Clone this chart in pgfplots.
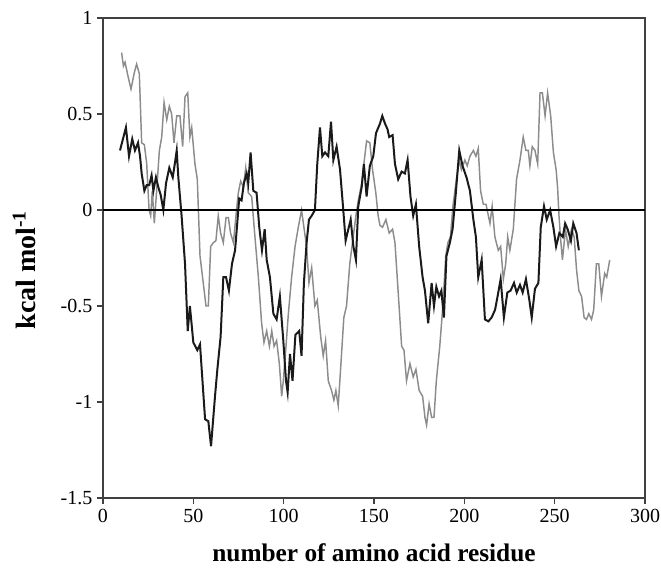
\documentclass[border=0pt]{standalone}
\usepackage{fontspec}
\setmainfont{Liberation Serif}
\usepackage{pgfplots}
\pgfplotsset{compat=1.18}
\definecolor{axisgray}{HTML}{404040}
\definecolor{lightser}{HTML}{8C8C8C}
\definecolor{darkser}{HTML}{1A1A1A}

\begin{document}
\begin{tikzpicture}
\begin{axis}[
  at={(0,0)}, anchor=south west,
  width=406.5pt, height=360pt, scale only axis,
  xmin=0, xmax=300, ymin=-1.5, ymax=1,
  xtick={0,50,...,300},
  xticklabels={0,50,100,150,200,250,300},
  ytick={-1.5,-1,-0.5,0,0.5,1},
  yticklabels={-1.5,-1,-0.5,0,0.5,1},
  tick align=outside, xtick pos=left, ytick pos=left,
  major tick length=4.5pt,
  axis line style={line width=1.4pt, color=axisgray},
  every tick/.style={line width=1.1pt, color=axisgray},
  ticklabel style={font=\fontsize{15}{18}\selectfont},
  xlabel={number of amino acid residue},
  ylabel={kcal mol\textsuperscript{-1}},
  xlabel style={font=\bfseries\fontsize{19}{22}\selectfont,
    at={(axis description cs:0.5,-0.115)}, anchor=center},
  ylabel style={font=\bfseries\fontsize{21}{24}\selectfont,
    at={(axis description cs:-0.145,0.475)}, anchor=center},
  clip=false,
]
% gray series
\addplot[lightser, line width=1.1pt] coordinates {
(10.3,0.82)(11.3,0.75)(12.2,0.77)(14.0,0.69)(15.5,0.63)(17.2,0.71)(18.6,0.76)(20.1,0.71)
(21.4,0.35)(22.9,0.34)(24.2,0.24)(25.5,0.0)(26.4,-0.03)(27.3,0.10)(28.4,-0.07)(29.7,0.10)
(31.2,0.31)(32.5,0.38)(33.8,0.56)(35.3,0.47)(36.7,0.54)(38.0,0.50)(39.3,0.35)(40.8,0.49)
(42.6,0.49)(44.1,0.33)(45.4,0.59)(46.9,0.61)(48.1,0.38)(49.1,0.43)(50.9,0.24)(52.2,0.16)
(53.7,-0.24)(55.5,-0.38)(57.0,-0.50)(58.3,-0.50)(59.6,-0.19)(61.1,-0.17)(62.5,-0.16)
(63.8,-0.03)(65.1,-0.12)(66.6,-0.17)(68.1,-0.04)(69.4,-0.04)(70.6,-0.12)(72.2,-0.17)
(73.6,-0.03)(74.9,0.09)(76.2,0.15)(77.7,0.12)(79.0,0.22)(80.4,0.09)(82.3,0.07)(84.1,-0.14)
(86.0,-0.35)(87.8,-0.59)(89.1,-0.69)(90.6,-0.63)(92.1,-0.71)(93.4,-0.63)(94.7,-0.71)
(96.1,-0.68)(97.6,-0.80)(98.9,-0.97)(99.8,-0.89)(101.3,-0.71)(102.6,-0.54)(104.4,-0.35)
(106.3,-0.19)(108.1,-0.09)(109.9,0.0)(111.2,-0.09)(112.7,-0.19)(114.0,-0.38)(115.5,-0.30)
(117.3,-0.50)(118.6,-0.47)(120.5,-0.66)(121.9,-0.76)(123.2,-0.68)(124.7,-0.89)(126.5,-0.94)
(127.8,-0.99)(128.9,-0.94)(130.2,-1.02)(131.5,-0.83)(133.3,-0.56)(134.8,-0.50)(136.6,-0.28)
(138.5,-0.14)(140.0,-0.03)(141.3,0.05)(143.2,0.14)(144.4,0.24)(145.9,0.36)(147.7,0.35)
(149.2,0.21)(151.0,0.09)(152.3,-0.03)(153.3,-0.08)(154.7,-0.09)(156.6,-0.05)(158.4,-0.12)
(160.3,-0.10)(161.6,-0.17)(163.4,-0.43)(165.3,-0.71)(166.6,-0.73)(168.0,-0.89)(169.9,-0.80)
(171.7,-0.87)(173.2,-0.83)(175.0,-0.94)(176.9,-0.97)(178.2,-1.08)(179.1,-1.12)(180.5,-1.01)
(181.9,-1.08)(183.2,-1.08)(184.5,-0.89)(186.4,-0.71)(188.2,-0.49)(189.7,-0.24)(190.9,-0.17)
(192.3,-0.14)(193.7,0.02)(195.6,0.16)(197.2,0.26)(198.4,0.21)(200.3,0.26)(201.6,0.23)
(203.1,0.28)(205.0,0.31)(206.4,0.28)(207.7,0.32)(209.0,0.10)(210.5,0.03)(212.0,0.03)
(213.3,-0.03)(214.2,-0.07)(215.4,0.02)(216.9,-0.14)(218.8,-0.21)(220.1,-0.19)(221.6,-0.36)
(222.9,-0.28)(224.0,-0.14)(225.2,-0.21)(227.1,-0.10)(228.9,0.16)(230.8,0.26)(232.6,0.38)
(234.1,0.31)(235.4,0.31)(236.3,0.23)(237.6,0.33)(239.1,0.31)(240.6,0.24)(241.9,0.61)
(243.2,0.61)(244.7,0.49)(246.1,0.61)(247.8,0.49)(249.3,0.30)(250.8,0.21)(251.6,0.12)
(252.4,-0.03)(253.2,-0.14)(254.3,-0.26)(256.0,-0.10)(257.5,-0.19)(259.3,-0.10)(260.8,-0.14)
(262.1,-0.31)(263.4,-0.42)(264.9,-0.45)(266.3,-0.56)(267.6,-0.57)(268.9,-0.54)(270.4,-0.57)
(271.6,-0.52)(273.1,-0.28)(274.4,-0.28)(275.9,-0.45)(277.7,-0.33)(278.8,-0.35)(280.5,-0.26)
};
% dark series
\addplot[darkser, line width=1.5pt] coordinates {
(9.4,0.31)(12.7,0.43)(14.4,0.28)(16.2,0.37)(17.7,0.31)(19.4,0.35)(20.5,0.28)(21.4,0.19)
(22.9,0.10)(24.2,0.13)(25.6,0.13)(26.9,0.18)(27.9,0.10)(29.3,0.17)(30.6,0.12)(31.9,0.08)
(33.4,0.0)(34.9,0.14)(36.7,0.22)(38.6,0.17)(39.9,0.25)(40.8,0.31)(41.7,0.17)(43.5,-0.03)
(45.4,-0.28)(46.9,-0.63)(48.1,-0.50)(50.0,-0.69)(52.2,-0.73)(53.7,-0.70)(56.5,-1.09)
(58.3,-1.10)(59.8,-1.23)(62.0,-0.97)(63.3,-0.83)(65.1,-0.66)(66.6,-0.35)(68.1,-0.35)
(69.7,-0.42)(71.4,-0.28)(73.1,-0.21)(74.3,-0.07)(75.4,0.06)(76.7,0.05)(78.0,0.14)(79.5,0.19)
(80.4,0.14)(81.7,0.30)(83.2,0.10)(85.0,0.09)(86.5,-0.09)(88.0,-0.21)(89.5,-0.10)(90.6,-0.26)
(92.4,-0.35)(94.3,-0.54)(96.1,-0.57)(97.9,-0.45)(99.8,-0.68)(101.3,-0.89)(102.2,-0.95)
(103.5,-0.75)(104.9,-0.89)(106.5,-0.65)(108.6,-0.63)(109.9,-0.76)(111.2,-0.38)(112.7,-0.17)
(114.0,-0.05)(115.5,-0.03)(117.3,0.0)(118.6,0.24)(120.1,0.43)(121.4,0.28)(122.9,0.30)
(124.7,0.28)(126.2,0.46)(127.5,0.26)(129.3,0.33)(131.2,0.21)(133.0,0.0)(134.3,-0.16)
(135.8,-0.10)(137.1,-0.05)(138.6,-0.19)(140.0,-0.26)(141.3,0.02)(143.2,0.12)(144.4,0.24)
(145.9,0.07)(147.7,0.23)(149.6,0.28)(151.1,0.40)(153.3,0.45)(154.6,0.49)(156.1,0.45)
(157.5,0.42)(158.4,0.38)(160.3,0.39)(161.6,0.24)(163.4,0.16)(165.3,0.20)(167.1,0.19)
(168.6,0.26)(170.2,0.07)(171.7,-0.03)(173.2,0.03)(175.0,-0.19)(176.9,-0.35)(178.2,-0.42)
(180.0,-0.59)(181.9,-0.38)(183.2,-0.50)(184.5,-0.40)(186.0,-0.45)(187.3,-0.42)(188.7,-0.56)
(190.1,-0.24)(192.0,-0.17)(193.5,-0.10)(195.3,0.09)(197.2,0.31)(199.0,0.23)(201.2,0.17)
(203.1,0.10)(205.0,-0.05)(206.4,-0.14)(207.7,-0.35)(209.6,-0.26)(211.4,-0.57)(213.3,-0.58)
(215.1,-0.56)(217.0,-0.52)(218.4,-0.45)(220.1,-0.36)(221.9,-0.56)(223.8,-0.43)(225.6,-0.42)
(227.5,-0.38)(229.0,-0.43)(230.8,-0.39)(232.3,-0.43)(234.1,-0.36)(236.0,-0.47)(237.3,-0.56)
(239.1,-0.41)(241.0,-0.38)(242.3,-0.09)(244.1,0.02)(245.6,-0.05)(247.5,0.0)(249.3,-0.09)
(250.8,-0.19)(252.6,-0.12)(254.5,-0.14)(255.8,-0.07)(257.2,-0.10)(259.0,-0.16)(260.3,-0.07)
(262.1,-0.12)(263.4,-0.21)
};
% zero line
\addplot[black, line width=0.9pt] coordinates {(0,0) (300,0)};
\end{axis}
\pgfresetboundingbox
\useasboundingbox (-77.25pt,-54.75pt) rectangle (418.5pt,373.5pt);
\end{tikzpicture}
\end{document}
